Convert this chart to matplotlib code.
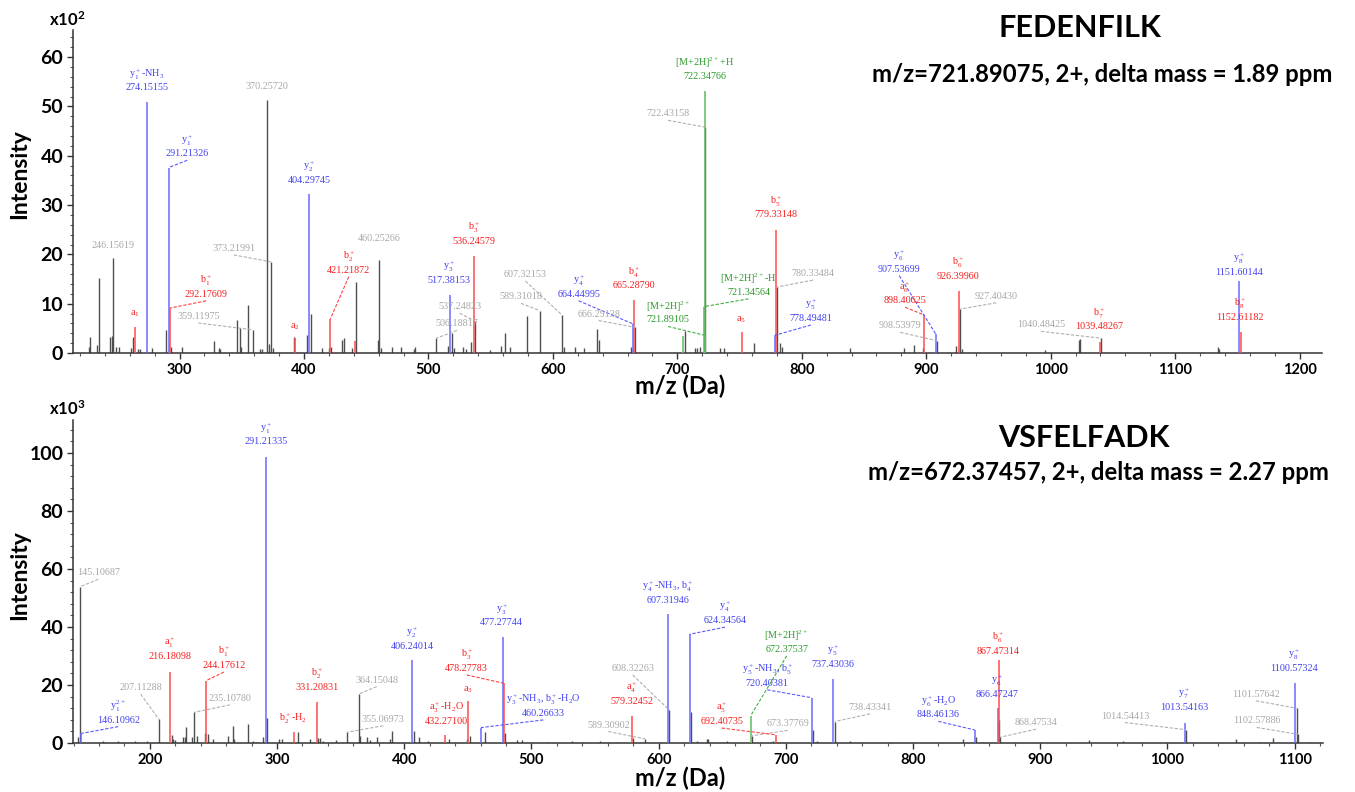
import matplotlib
matplotlib.use('Agg')
import matplotlib.pyplot as plt
from matplotlib.ticker import MultipleLocator
import matplotlib.transforms as mtransforms

plt.rcParams['font.family'] = ['Lato', 'DejaVu Sans']
plt.rcParams['mathtext.default'] = 'regular'

# ---------------- Top spectrum: FEDENFILK (intensity x10^2) ----------------
top_title = "FEDENFILK"
top_subtitle = "m/z=721.89075, 2+, delta mass = 1.89 ppm"

top_grey_mz = [227.1, 227.9, 233.9, 234.9, 244.3, 245.4, 249.1, 251.2, 261.4, 262.5,
               266.5, 268.1, 277.5, 289.5, 293.4, 301.6, 327.5, 331.5, 332.9, 345.8,
               348.2, 349.5, 354.8, 365.0, 366.4, 371.7, 375.4, 391.8, 402.6, 405.3,
               414.6, 419.9, 422.1, 430.6, 432.3, 438.7, 442.1, 459.8, 461.5, 470.9,
               478.3, 488.2, 489.6, 515.4, 519.0, 520.5, 527.8, 530.5, 534.5, 549.2,
               558.6, 561.3, 565.3, 579.2, 608.7, 617.5, 624.7, 635.4, 637.0, 662.7,
               705.9, 714.4, 715.8, 718.4, 734.5, 737.2, 761.3, 782.7, 783.8, 838.4,
               881.8, 890.3, 897.0, 924.1, 928.6, 995.3, 1023.1, 1023.7, 1134.8, 1135.6]
top_grey_int = [1.3, 3.2, 1.6, 15.3, 3.3, 3.4, 1.2, 1.2, 1.0, 3.2,
                0.8, 0.8, 1.1, 4.7, 1.2, 1.2, 2.5, 1.1, 0.8, 6.6,
                5.0, 1.2, 9.7, 0.8, 0.8, 1.8, 1.0, 3.3, 3.6, 7.9,
                1.1, 1.1, 1.2, 2.7, 3.1, 1.0, 14.3, 2.7, 1.0, 1.2,
                1.2, 0.9, 1.2, 1.5, 4.0, 1.0, 1.2, 0.8, 2.3, 0.6,
                1.4, 4.0, 1.3, 7.5, 1.2, 1.2, 1.0, 4.9, 2.7, 1.2,
                4.5, 1.0, 1.0, 1.2, 1.0, 1.0, 2.0, 2.0, 1.2, 1.0,
                1.0, 1.6, 1.0, 1.5, 0.8, 0.6, 2.6, 2.9, 1.2, 0.8]

top_extra_mz = [441.0, 704.2]
top_extra_int = [2.5, 3.5]
top_extra_kind = ['b', 'M']

top_ann_mz = [246.15619, 264.6, 274.15155, 291.21326, 292.17609, 359.11975, 370.25720,
              373.21991, 393.1, 404.29745, 421.21872, 460.25266, 506.18817, 517.38153,
              536.24579, 537.24823, 589.31018, 607.32153, 664.44995, 665.28790, 666.29138,
              721.89105, 721.34564, 722.34766, 722.43158, 751.9, 778.49481, 779.33148,
              780.33484, 898.40625, 907.53699, 908.53979, 926.39960, 927.40430,
              1039.48267, 1040.48425, 1151.60144, 1152.61182]
top_ann_int = [19.3, 5.3, 50.9, 37.6, 9.1, 4.7, 51.3,
               18.5, 3.0, 32.3, 6.9, 18.9, 3.0, 11.8,
               19.7, 6.5, 8.6, 7.7, 5.9, 10.7, 5.2,
               3.6, 9.4, 53.1, 45.8, 4.2, 3.6, 24.9,
               13.4, 7.7, 3.9, 2.5, 12.6, 8.9,
               2.3, 3.0, 14.5, 4.3]
top_ann_kind = ['u', 'b', 'y', 'y', 'b', 'u', 'u',
                'u', 'b', 'y', 'b', 'u', 'u', 'y',
                'b', 'u', 'u', 'u', 'y', 'b', 'u',
                'M', 'M', 'M', 'u', 'b', 'y', 'b',
                'u', 'b', 'y', 'u', 'b', 'u',
                'b', 'u', 'y', 'b']
top_ann_name = ['', 'a$_1$', 'y$_1^+$-NH$_3$', 'y$_1^+$', 'b$_1^+$', '', '',
                '', 'a$_2$', 'y$_2^+$', 'b$_2^+$', '', '', 'y$_3^+$',
                'b$_3^+$', '', '', '', 'y$_4^+$', 'b$_4^+$', '',
                '[M+2H]$^{2+}$', '[M+2H]$^{2+}$-H', '[M+2H]$^{2+}$+H', '', 'a$_5$', 'y$_5^+$', 'b$_5^+$',
                '', 'a$_6^+$', 'y$_6^+$', '', 'b$_6^+$', '',
                'b$_7^+$', '', 'y$_8^+$', 'b$_8^+$']
top_ann_value_shown = [True, False, True, True, True, True, True,
                       True, False, True, True, True, True, True,
                       True, True, True, True, True, True, True,
                       True, True, True, True, False, True, True,
                       True, True, True, True, True, True,
                       True, True, True, True]
# label placement (layout): centre of the lower text line, data coords
top_label_pos = [(246.2, 21.9), (264.1, 7.9), (274.0, 53.8), (306.2, 40.4), (321.4, 11.9),
                 (315.0, 7.4), (370.3, 54.0), (343.6, 21.2), (392.9, 5.3), (404.4, 35.0),
                 (436.0, 16.8), (460.1, 23.2), (523.0, 5.9), (516.3, 14.8), (536.4, 22.7),
                 (525.0, 9.4), (574.4, 11.4), (577.9, 15.9), (620.7, 11.9), (664.9, 13.6),
                 (636.8, 7.9), (692.5, 6.7), (757.2, 12.3), (721.9, 56.1), (692.5, 48.5),
                 (751.3, 6.7), (807.3, 7.0), (779.3, 28.0), (809.0, 16.1), (883.1, 10.6),
                 (878.3, 17.0), (879.1, 5.5), (925.9, 15.6), (956.2, 11.5), (1039.2, 5.3),
                 (992.3, 5.7), (1151.4, 16.3), (1152.0, 7.2)]

# ---------------- Bottom spectrum: VSFELFADK (intensity x10^3) ----------------
bot_title = "VSFELFADK"
bot_subtitle = "m/z=672.37457, 2+, delta mass = 2.27 ppm"

bot_grey_mz = [143.8, 163.4, 175.2, 188.3, 197.5, 217.2, 218.5, 219.8, 226.3, 227.7,
               228.4, 232.9, 236.8, 243.4, 246.0, 249.9, 261.7, 265.6, 266.4, 277.4,
               281.3, 289.2, 292.4, 301.8, 303.7, 316.2, 325.9, 332.4, 333.8, 336.4,
               346.1, 365.2, 370.5, 373.1, 378.3, 388.8, 390.1, 407.7, 411.9, 418.9,
               435.4, 449.1, 451.7, 463.5, 479.5, 488.4, 492.3, 511.9, 531.6, 540.8,
               553.9, 567.0, 580.1, 625.2, 629.9, 637.7, 639.1, 653.5, 690.2, 721.6,
               724.2, 750.5, 781.9, 839.6, 849.5, 867.9, 938.6, 965.3, 1054.0, 1072.8,
               1082.7, 1112.1]
bot_grey_int = [2.0, 0.6, 0.8, 0.6, 0.6, 2.8, 1.5, 1.0, 2.0, 2.0,
                5.4, 2.0, 2.5, 3.3, 3.0, 1.5, 2.3, 5.9, 1.5, 6.6,
                0.8, 2.0, 8.7, 1.5, 1.5, 3.7, 1.5, 1.8, 1.8, 0.8,
                1.0, 2.5, 2.0, 1.0, 2.0, 1.5, 4.1, 4.1, 2.0, 0.6,
                1.5, 1.3, 2.5, 3.7, 3.4, 1.0, 1.0, 0.5, 0.6, 0.5,
                0.6, 0.5, 1.6, 10.8, 0.8, 1.3, 1.3, 0.6, 0.6, 4.4,
                0.8, 0.6, 0.5, 1.3, 2.2, 8.0, 1.0, 0.8, 1.5, 0.5,
                1.7, 0.5]

bot_ann_mz = [145.10687, 146.10962, 207.11288, 216.18098, 235.10780, 244.17612, 291.21335,
              313.3, 331.20831, 355.06973, 364.15048, 406.24014, 432.27100, 450.4,
              460.26633, 477.27744, 478.27783, 579.32452, 589.30902, 607.31946, 608.32263,
              624.34564, 672.37537, 673.37769, 692.40735, 720.40381, 737.43036, 738.43341,
              848.46136, 866.47247, 867.47314, 868.47534, 1013.54163, 1014.54413,
              1100.57324, 1101.57642, 1102.57886]
bot_ann_int = [53.9, 3.3, 8.2, 24.6, 10.6, 21.5, 98.7,
               3.7, 14.0, 3.7, 16.9, 28.6, 2.6, 14.5,
               5.3, 36.4, 20.6, 9.3, 1.4, 44.4, 11.4,
               37.5, 9.4, 2.5, 2.8, 15.6, 22.1, 7.4,
               4.5, 12.0, 28.6, 2.0, 7.0, 4.6,
               20.8, 12.0, 3.0]
bot_ann_kind = ['u', 'y', 'u', 'b', 'u', 'b', 'y',
                'b', 'b', 'u', 'u', 'y', 'b', 'b',
                'y', 'y', 'b', 'b', 'u', 'y', 'u',
                'y', 'M', 'u', 'b', 'y', 'y', 'u',
                'y', 'y', 'b', 'u', 'y', 'u',
                'y', 'u', 'u']
bot_ann_name = ['', 'y$_1^{2+}$', '', 'a$_1^+$', '', 'b$_1^+$', 'y$_1^+$',
                'b$_2^+$-H$_2$', 'b$_2^+$', '', '', 'y$_2^+$', 'a$_3^+$-H$_2$O', 'a$_3$',
                'y$_3^+$-NH$_3$, b$_3^+$-H$_2$O', 'y$_3^+$', 'b$_3^+$', 'a$_4^+$', '',
                'y$_4^+$-NH$_3$, b$_4^+$', '',
                'y$_4^+$', '[M+2H]$^{2+}$', '', 'a$_5^+$', 'y$_5^+$-NH$_3$, b$_5^+$', 'y$_5^+$', '',
                'y$_6^+$-H$_2$O', 'y$_6^+$', 'b$_6^+$', '', 'y$_7^+$', '',
                'y$_8^+$', '', '']
bot_ann_value_shown = [True, True, True, True, True, True, True,
                       False, True, True, True, True, True, False,
                       True, True, True, True, True, True, True,
                       True, True, True, True, True, True, True,
                       True, True, True, True, True, True,
                       True, True, True]
bot_label_pos = [(159.5, 58.7), (175.2, 7.9), (192.8, 19.1), (215.9, 29.8), (263.0, 15.4),
                 (258.3, 26.7), (291.3, 103.9), (312.8, 8.2), (331.2, 19.2), (383.5, 8.2),
                 (378.4, 21.7), (406.4, 33.4), (433.4, 7.4), (450.4, 18.5), (509.4, 10.2),
                 (476.6, 41.5), (449.1, 25.7), (578.8, 14.3), (560.5, 6.2), (607.1, 49.1),
                 (579.6, 25.7), (652.2, 42.2), (700.7, 32.3), (701.5, 6.6), (649.6, 7.4),
                 (685.4, 20.6), (737.3, 27.2), (766.2, 12.3), (819.9, 9.7), (865.8, 16.8),
                 (867.0, 31.7), (896.7, 7.0), (1013.0, 12.3), (966.6, 9.3), (1099.5, 25.7),
                 (1069.6, 16.8), (1070.2, 7.6)]

# ---------------- styling ----------------
PEAK_COL = {'y': '#6a6aff', 'b': '#ff4a4a', 'M': '#5cbc5c', 'u': '#4f4f4f'}
TEXT_COL = {'y': '#4242f0', 'b': '#f52020', 'M': '#2a9a2a', 'u': '#a8a8a8'}
LEAD_COL = {'y': '#5a5aff', 'b': '#ff4040', 'M': '#40b040', 'u': '#b0b0b0'}
LABEL_FONT = dict(family=['Liberation Serif', 'DejaVu Serif'], fontsize=7.3)

W, H = 1355, 792
fig = plt.figure(figsize=(W / 100, H / 100), dpi=100)
ax_top = fig.add_axes([73 / W, 1 - 353 / H, 1249 / W, 323 / H])
ax_bot = fig.add_axes([73 / W, 1 - 743 / H, 1250 / W, 323 / H])


def draw_panel(ax, grey_mz, grey_int, extra_mz, extra_int, extra_kind,
               ann_mz, ann_int, ann_kind, ann_name, ann_show, label_pos,
               xlim, ylim, ymajor, yminor):
    ax.set_xlim(*xlim)
    ax.set_ylim(*ylim)
    ax_h_px = ax.get_position().height * H
    units_per_px = (ylim[1] - ylim[0]) / ax_h_px
    line_off = mtransforms.offset_copy(ax.transData, fig=fig, x=0, y=9.6, units='points')

    ax.vlines(grey_mz, 0, grey_int, color=PEAK_COL['u'], lw=1.0, zorder=2)
    ug = [(m, h) for m, h, k in zip(ann_mz, ann_int, ann_kind) if k == 'u']
    ax.vlines([m for m, _ in ug], 0, [h for _, h in ug], color=PEAK_COL['u'], lw=1.0, zorder=2)
    for m, h, k in zip(extra_mz, extra_int, extra_kind):
        ax.vlines(m, 0, h, color=PEAK_COL[k], lw=1.1, zorder=3)
    for m, h, k in zip(ann_mz, ann_int, ann_kind):
        if k != 'u':
            ax.vlines(m, 0, h, color=PEAK_COL[k], lw=1.1, zorder=3)

    for m, h, k, name, show, (lx, ly) in zip(ann_mz, ann_int, ann_kind, ann_name,
                                             ann_show, label_pos):
        tc = TEXT_COL[k]
        if show:
            ax.text(lx, ly, f"{m:.5f}", color=tc, ha='center', va='center', zorder=5, **LABEL_FONT)
            if name:
                ax.text(lx, ly, name, color=tc, ha='center', va='center', zorder=5,
                        transform=line_off, **LABEL_FONT)
        else:
            ax.text(lx, ly, name, color=tc, ha='center', va='center', zorder=5, **LABEL_FONT)
        if abs(lx - m) > 3:
            y0 = ly - 6.5 * units_per_px
            ax.plot([lx, m], [y0, h], color=LEAD_COL[k], lw=0.8,
                    dashes=(3, 1.5), zorder=4, solid_capstyle='butt')

    for s in ['top', 'right']:
        ax.spines[s].set_visible(False)
    for s in ['left', 'bottom']:
        ax.spines[s].set_linewidth(1.1)
        ax.spines[s].set_color('#333333')
    ax.xaxis.set_major_locator(MultipleLocator(100))
    ax.xaxis.set_minor_locator(MultipleLocator(20))
    ax.yaxis.set_major_locator(MultipleLocator(ymajor))
    ax.yaxis.set_minor_locator(MultipleLocator(yminor))
    ax.tick_params(which='major', direction='out', length=4, width=1.0, color='#333333')
    ax.tick_params(which='minor', direction='out', length=2, width=0.8, color='#555555')
    ax.tick_params(axis='x', labelsize=10.5, pad=3)
    ax.tick_params(axis='y', labelsize=14, pad=3)
    for lbl in ax.get_xticklabels() + ax.get_yticklabels():
        lbl.set_fontweight('bold')


draw_panel(ax_top, top_grey_mz, top_grey_int, top_extra_mz, top_extra_int, top_extra_kind,
           top_ann_mz, top_ann_int, top_ann_kind, top_ann_name, top_ann_value_shown,
           top_label_pos, (214.4, 1218.0), (0, 65.5), 10, 2)
draw_panel(ax_bot, bot_grey_mz, bot_grey_int, [], [], [],
           bot_ann_mz, bot_ann_int, bot_ann_kind, bot_ann_name, bot_ann_value_shown,
           bot_label_pos, (139.6, 1122.3), (0, 111.4), 20, 4)

# axis labels / multipliers
for ax, ylab_y, xlab_y, mult, mult_y in [(ax_top, 0.553, -0.102, 'x10$^{2}$', 1 - 20 / H),
                                         (ax_bot, 0.52, -0.11, 'x10$^{3}$', 1 - 409 / H)]:
    ax.text(-0.0424, ylab_y, 'Intensity', transform=ax.transAxes, rotation=90,
            ha='center', va='center', fontsize=16.5, fontweight='bold')
    ax.text(0.486, xlab_y, 'm/z (Da)', transform=ax.transAxes, ha='center', va='center',
            fontsize=17, fontweight='bold')
    fig.text(67 / W, mult_y, mult, ha='center', va='center', fontsize=12, fontweight='bold')

fig.text(1080 / W, 1 - 28 / H, top_title, ha='center', va='center', fontsize=22, fontweight='bold')
fig.text(1102 / W, 1 - 75 / H, top_subtitle, ha='center', va='center', fontsize=17.2, fontweight='bold')
fig.text(1084 / W, 1 - 438 / H, bot_title, ha='center', va='center', fontsize=22, fontweight='bold')
fig.text(1098 / W, 1 - 473 / H, bot_subtitle, ha='center', va='center', fontsize=17.2, fontweight='bold')

fig.savefig('out.png', dpi=100, facecolor='white')
